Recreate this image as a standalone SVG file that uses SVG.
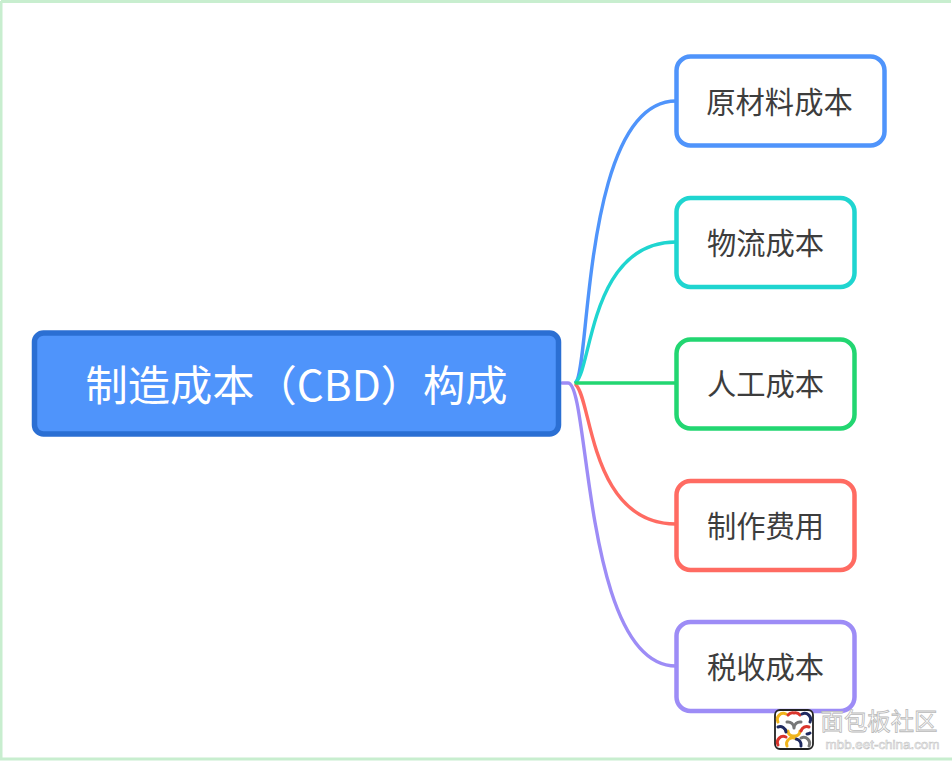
<svg xmlns="http://www.w3.org/2000/svg" width="952" height="761" viewBox="0 0 952 761">
<style>
text{font-family:"Noto Sans CJK SC","Liberation Sans",sans-serif;text-anchor:middle}
.leaf rect{fill:#fff;stroke-width:4.5}
.leaf text{font-size:29.3px;fill:#3d3d3d}
.link{fill:none;stroke-width:3.4;stroke-linecap:round}
.chain{fill:none;stroke-width:3;stroke-linecap:round}
</style>
<rect width="952" height="761" fill="#fff"/>
<path d="M1 1.500H951M1 1V760M0 759H952" fill="none" stroke="#c8eecf" stroke-width="3"/>
<g id="connectors">
<path class="link" stroke="#9d8cf6" d="M562 383H568C590 383 583 666 676 666"/>
<path class="link" stroke="#ff6b62" d="M576 385C592 400 590 524 676 524"/>
<path class="link" stroke="#4f94fb" d="M576 382C590 370 583 101 676 101"/>
<path class="link" stroke="#1fd5d0" d="M576 382C592 368 590 242 676 242"/>
<path class="link" stroke="#22d671" d="M576 383H676"/>
</g>
<g id="root">
<rect x="34.500" y="333" width="524" height="101" rx="9" fill="#4f94fb" stroke="#2b6fd3" stroke-width="5.500"/>
<text x="296.500" y="401" font-size="42.300" fill="#fff">制造成本（CBD）构成</text>
</g>
<g id="n1" class="leaf"><rect x="676.500" y="56.500" width="208" height="89" rx="14" stroke="#4f94fb"/><text x="779.500" y="113">原材料成本</text></g>
<g id="n2" class="leaf"><rect x="676.500" y="198" width="178" height="89" rx="14" stroke="#1fd5d0"/><text x="765.500" y="254">物流成本</text></g>
<g id="n3" class="leaf"><rect x="676.500" y="339.500" width="178" height="89" rx="14" stroke="#22d671"/><text x="765.500" y="395">人工成本</text></g>
<g id="n4" class="leaf"><rect x="676.500" y="481" width="178" height="89" rx="14" stroke="#ff6b62"/><text x="765.500" y="537">制作费用</text></g>
<g id="n5" class="leaf"><rect x="676.500" y="622" width="178" height="89" rx="14" stroke="#9d8cf6"/><text x="765.500" y="678">税收成本</text></g>
<g id="watermark">
<rect x="775" y="710" width="38" height="39" rx="5" fill="#fff" stroke="#222" stroke-width="1.800"/>
<!-- interlaced chain links of the logo -->
<path class="chain" stroke="#f0b41c" d="M778 722a6 6 0 0 1 8-8M788 731a5 5 0 0 0 6 5a5 5 0 0 0 6-5"/>
<path class="chain" stroke="#777" d="M787 722a6 6 0 0 1 7 6M801 722a6 6 0 0 0-7 6M801 738a6 6 0 0 1 8 8"/>
<path class="chain" stroke="#d9342b" d="M788 715a6 6 0 0 1 6-2a6 6 0 0 1 6 2M801 731a6 6 0 0 1 8-4M778 745a6 6 0 0 1 8-8"/>
<path class="chain" stroke="#1f2a60" d="M802 714a6 6 0 0 1 8 8M778 727a6 6 0 0 1 8 5M810 733a6 6 0 0 1-3 1M796 739a6 6 0 0 1 5 7"/>
<path class="chain" stroke="#f0b41c" d="M787 746a6 6 0 0 1 7-8"/>
<text x="879" y="730" font-size="23.400" fill="#fff" stroke="#b9b9b9" stroke-width=".8">面包板社区</text>
<text x="882.500" y="748.500" font-size="13.400" fill="#fff" stroke="#c4c4c4" stroke-width=".6" style="font-family:'Liberation Sans',sans-serif">mbb.eet-china.com</text>
</g>
</svg>
